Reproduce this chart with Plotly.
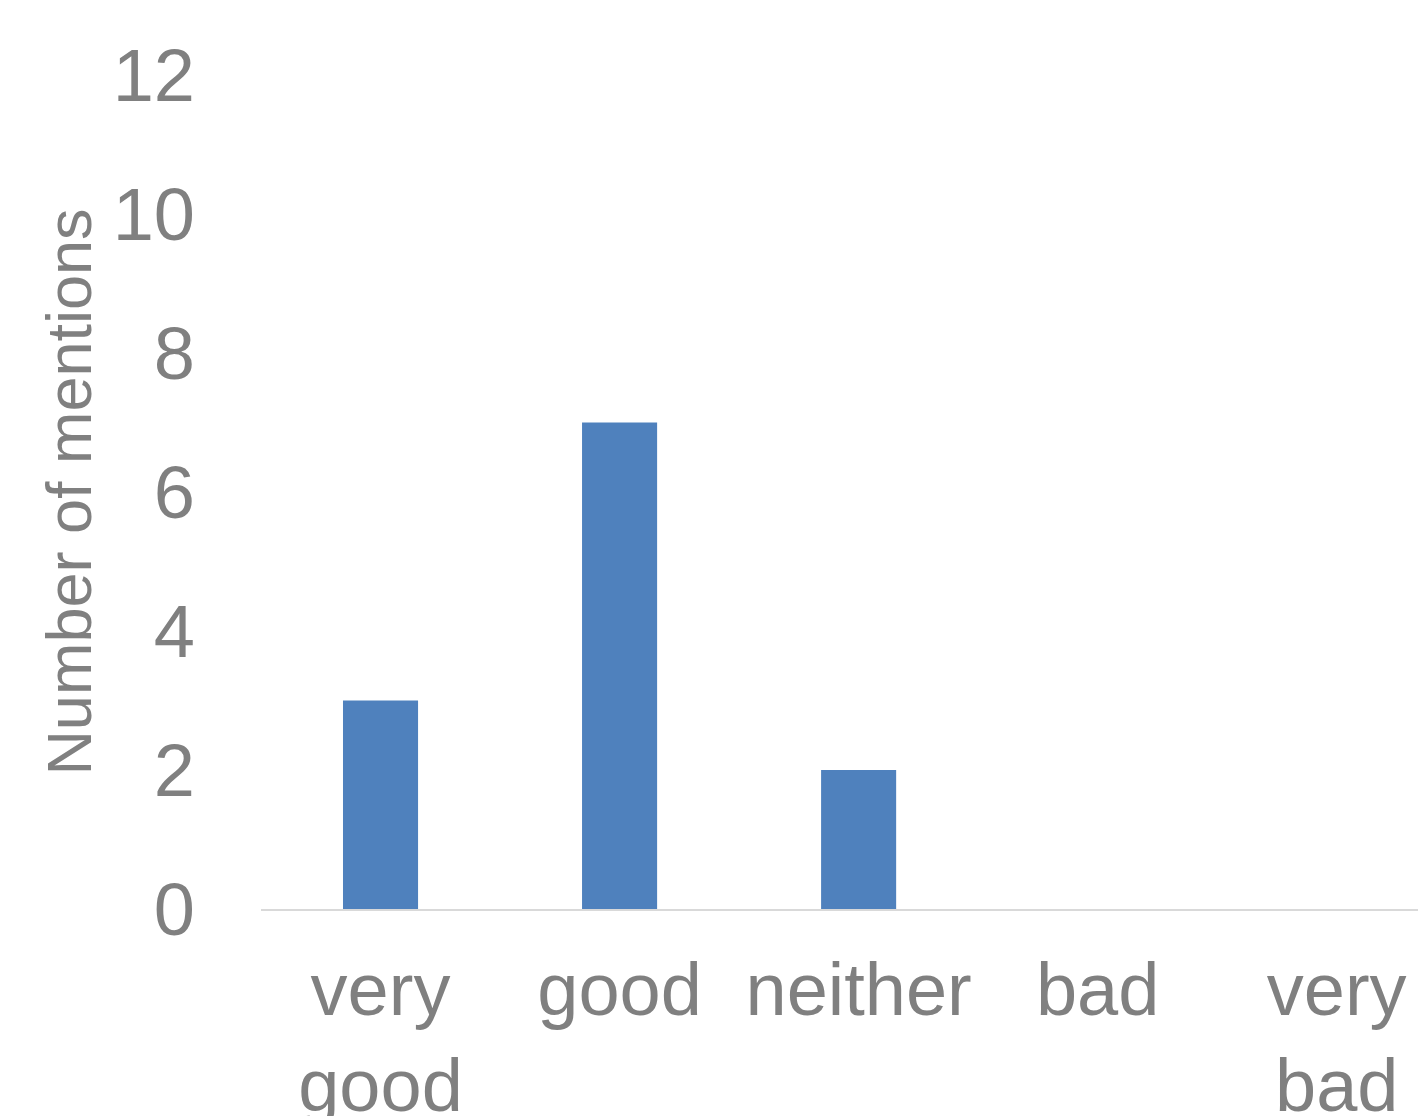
import plotly.graph_objects as go

categories = ["very<br>good", "good", "neither", "bad", "very<br>bad"]
mentions = [3, 7, 2, 0, 0]
y_ticks = [0, 2, 4, 6, 8, 10, 12]

GREY = "#808080"
FONT = "Liberation Sans, Arial, sans-serif"

fig = go.Figure(
    go.Bar(
        x=categories,
        y=mentions,
        marker=dict(color="#4F81BD", line=dict(width=0)),
    )
)

fig.update_layout(
    width=1418,
    height=1116,
    margin=dict(l=261, r=0, t=75, b=207),
    paper_bgcolor="white",
    plot_bgcolor="white",
    bargap=0.686,
    showlegend=False,
    font=dict(family=FONT, color=GREY),
)

fig.update_xaxes(
    type="category",
    range=[-0.5, 4.34],
    automargin=False,
    showline=True,
    linecolor="#D9D9D9",
    linewidth=2,
    showgrid=False,
    ticks="",
    tickfont=dict(size=74, color=GREY, family=FONT),
    ticklabelstandoff=15,
)

fig.update_yaxes(
    range=[0, 12],
    tickvals=y_ticks,
    automargin=False,
    showgrid=False,
    zeroline=False,
    showline=False,
    ticks="",
    tickfont=dict(size=74, color=GREY, family=FONT),
    ticklabelstandoff=65,
    title=dict(text="Number of mentions", font=dict(size=63, color=GREY, family=FONT), standoff=0),
)

fig.write_html("out.html")
